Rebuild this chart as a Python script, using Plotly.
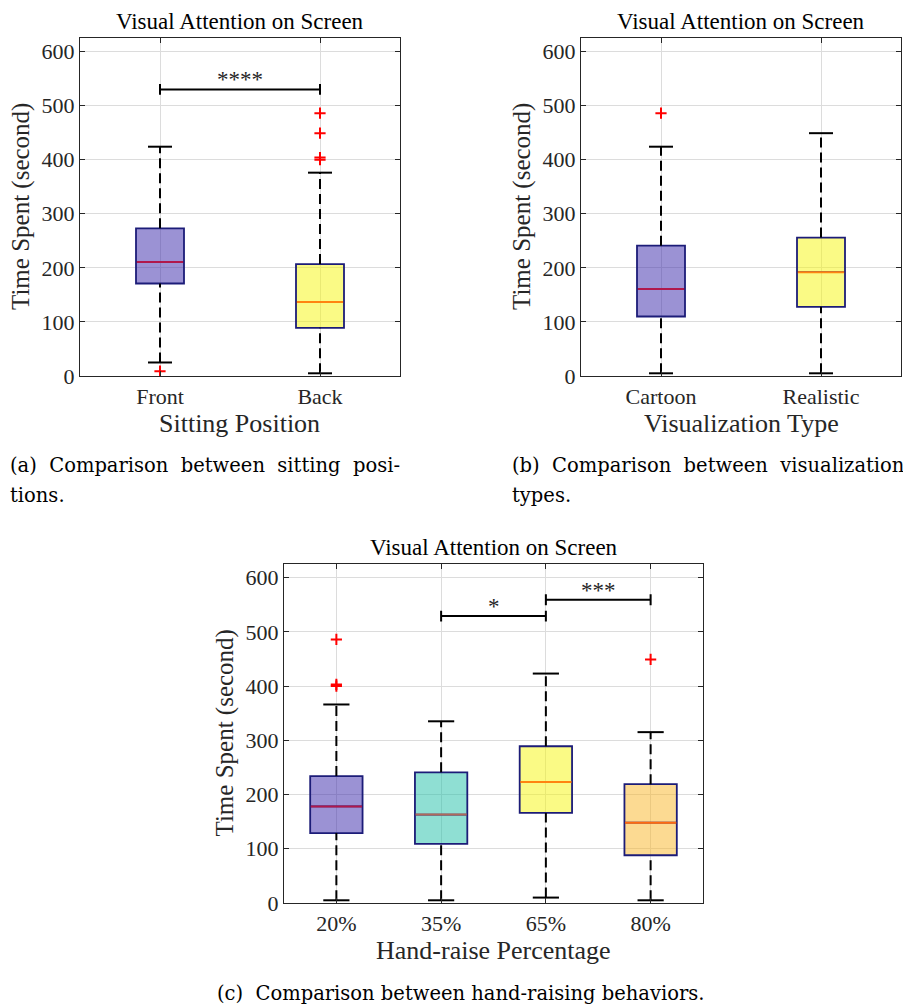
import plotly.graph_objects as go

# ---------------- data ----------------
pos_labels = ["Front", "Back"]
pos_q1 = [171, 89]
pos_med = [211, 137]
pos_q3 = [273, 207]
pos_lo = [25, 5]
pos_hi = [424, 376]
pos_out_cat = ["Front", "Back", "Back", "Back", "Back"]
pos_out_val = [9, 486, 449, 404, 400]

vis_labels = ["Cartoon", "Realistic"]
vis_q1 = [110, 128]
vis_med = [161, 192]
vis_q3 = [241, 256]
vis_lo = [5, 5]
vis_hi = [424, 449]
vis_out_cat = ["Cartoon"]
vis_out_val = [486]

hand_labels = ["20%", "35%", "65%", "80%"]
hand_q1 = [129, 109, 166, 88]
hand_med = [178, 163, 223, 148]
hand_q3 = [234, 241, 289, 219]
hand_lo = [5, 5, 10, 5]
hand_hi = [366, 335, 423, 315]
hand_out_cat = ["20%", "20%", "20%", "80%"]
hand_out_val = [486, 403, 400, 449]

pos_sig = [("Front", "Back", 530, "****")]
vis_sig = []
hand_sig = [("35%", "65%", 529, "*"), ("65%", "80%", 559, "***")]

# ---------------- styles ----------------
FILL_PURPLE = "rgba(55,37,169,0.5)"
FILL_YELLOW = "rgba(246,246,12,0.5)"
FILL_TEAL = "rgba(31,191,167,0.5)"
FILL_ORANGE = "rgba(249,181,37,0.5)"
MED_RED = "#b0184c"
MED_ORANGE = "#ff8410"
MED_BROWN = "#b06a5a"
MED_ORANGE2 = "#ff6a10"
BORDER = "#1c1c78"
SERIF = "Liberation Serif"
AX_COL = "#262626"

# page offset (body margin) and figure size
OFF = 8
W, H = 903, 1000


def gx(page_x):
    return (page_x - OFF) / W


def gy(page_y):
    return 1 - (page_y - OFF) / H


panels = [
    dict(labels=pos_labels, q1=pos_q1, med=pos_med, q3=pos_q3, lo=pos_lo, hi=pos_hi,
         oc=pos_out_cat, ov=pos_out_val, sig=pos_sig,
         fills=[FILL_PURPLE, FILL_YELLOW], meds=[MED_RED, MED_ORANGE],
         bw=0.3, cw=0.15, xpx=(80, 400), ypx=(38, 376), xtitle="Sitting Position",
         ytx=21, xty=424),
    dict(labels=vis_labels, q1=vis_q1, med=vis_med, q3=vis_q3, lo=vis_lo, hi=vis_hi,
         oc=vis_out_cat, ov=vis_out_val, sig=vis_sig,
         fills=[FILL_PURPLE, FILL_YELLOW], meds=[MED_RED, MED_ORANGE],
         bw=0.3, cw=0.15, xpx=(581, 901), ypx=(38, 376), xtitle="Visualization Type",
         ytx=522, xty=424),
    dict(labels=hand_labels, q1=hand_q1, med=hand_med, q3=hand_q3, lo=hand_lo, hi=hand_hi,
         oc=hand_out_cat, ov=hand_out_val, sig=hand_sig,
         fills=[FILL_PURPLE, FILL_TEAL, FILL_YELLOW, FILL_ORANGE],
         meds=[MED_RED, MED_BROWN, MED_ORANGE, MED_ORANGE2],
         bw=0.5, cw=0.25, xpx=(284, 703), ypx=(564, 903), xtitle="Hand-raise Percentage",
         ytx=224, xty=950),
]

fig = go.Figure()
annotations = []

for k, p in enumerate(panels):
    sfx = "" if k == 0 else str(k + 1)
    xa, ya = "x" + sfx, "y" + sfx
    n = len(p["labels"])
    idx = {lab: i + 1 for i, lab in enumerate(p["labels"])}
    for i in range(n):
        xc = i + 1
        # dashed whiskers
        for a, b in [(p["q3"][i], p["hi"][i]), (p["lo"][i], p["q1"][i])]:
            fig.add_trace(go.Scatter(x=[xc, xc], y=[a, b], mode="lines", xaxis=xa, yaxis=ya,
                                     line=dict(color="black", width=2, dash="10px,5px"),
                                     hoverinfo="skip", showlegend=False))
        # caps
        for v in [p["hi"][i], p["lo"][i]]:
            fig.add_trace(go.Scatter(x=[xc - p["cw"] / 2, xc + p["cw"] / 2], y=[v, v], mode="lines",
                                     xaxis=xa, yaxis=ya, line=dict(color="black", width=2),
                                     hoverinfo="skip", showlegend=False))
        # box
        fig.add_trace(go.Box(x=[xc], q1=[p["q1"][i]], median=[p["med"][i]], q3=[p["q3"][i]],
                             lowerfence=[p["q1"][i]], upperfence=[p["q3"][i]],
                             width=p["bw"], fillcolor=p["fills"][i],
                             line=dict(color=BORDER, width=1.8), boxpoints=False,
                             xaxis=xa, yaxis=ya, hoverinfo="skip", showlegend=False))
        # median
        fig.add_trace(go.Scatter(x=[xc - p["bw"] / 2 + 0.005, xc + p["bw"] / 2 - 0.005],
                                 y=[p["med"][i], p["med"][i]], mode="lines", xaxis=xa, yaxis=ya,
                                 line=dict(color=p["meds"][i], width=2),
                                 hoverinfo="skip", showlegend=False))
    # outliers
    if p["oc"]:
        fig.add_trace(go.Scatter(x=[idx[c] for c in p["oc"]], y=p["ov"], mode="markers",
                                 xaxis=xa, yaxis=ya,
                                 marker=dict(symbol="cross-thin", size=8, color="red",
                                             line=dict(color="red", width=2)),
                                 hoverinfo="skip", showlegend=False))
    # significance bars
    for (c1, c2, yv, txt) in p["sig"]:
        x1, x2 = idx[c1], idx[c2]
        fig.add_trace(go.Scatter(x=[x1, x1, x1, x2, x2, x2], y=[yv - 10, yv + 10, yv, yv, yv + 10, yv - 10],
                                 mode="lines", xaxis=xa, yaxis=ya,
                                 line=dict(color="black", width=2),
                                 hoverinfo="skip", showlegend=False))
        annotations.append(dict(x=(x1 + x2) / 2, y=yv - 9, xref=xa, yref=ya, text=txt,
                                showarrow=False, xanchor="center", yanchor="bottom",
                                font=dict(family=SERIF, size=23, color=AX_COL)))

    x0, x1p = p["xpx"]
    yt, yb = p["ypx"]
    axis_common = dict(showline=True, linecolor=AX_COL, linewidth=1.3, mirror="ticks",
                       ticks="inside", ticklen=5, tickcolor=AX_COL, showgrid=True,
                       gridcolor="#dcdcdc", gridwidth=1, zeroline=False, automargin=False,
                       tickfont=dict(family=SERIF, size=22, color=AX_COL))
    fig.update_layout(**{
        "xaxis" + sfx: dict(domain=[gx(x0), gx(x1p)], anchor=ya, range=[0.5, n + 0.5],
                            tickvals=list(range(1, n + 1)), ticktext=p["labels"],
                            **axis_common),
        "yaxis" + sfx: dict(domain=[gy(yb), gy(yt)], anchor=xa, range=[0, 625],
                            tickvals=[0, 100, 200, 300, 400, 500, 600],
                            **axis_common),
    })
    annotations.append(dict(x=gx((x0 + x1p) / 2), y=gy(p["xty"]), xref="paper", yref="paper",
                            text=p["xtitle"], showarrow=False, xanchor="center", yanchor="middle",
                            font=dict(family=SERIF, size=26, color=AX_COL)))
    annotations.append(dict(x=gx(p["ytx"]), y=gy((yt + yb) / 2), xref="paper", yref="paper",
                            text="Time Spent (second)", showarrow=False, textangle=-90,
                            xanchor="center", yanchor="middle",
                            font=dict(family=SERIF, size=25, color=AX_COL)))
    annotations.append(dict(x=gx((x0 + x1p) / 2), y=gy(yt - 30), xref="paper", yref="paper",
                            text="Visual Attention on Screen", showarrow=False,
                            xanchor="center", yanchor="top", borderpad=0,
                            font=dict(family=SERIF, size=23, color="black")))

CAP = dict(family="DejaVu Serif", size=19.5, color="black")
annotations += [
    dict(x=gx(8), y=gy(466), xref="paper", yref="paper", xanchor="left", yanchor="middle",
         text="(a)  Comparison  between  sitting  posi-", showarrow=False, font=CAP),
    dict(x=gx(8), y=gy(495), xref="paper", yref="paper", xanchor="left", yanchor="middle",
         text="tions.", showarrow=False, font=CAP),
    dict(x=gx(510), y=gy(466), xref="paper", yref="paper", xanchor="left", yanchor="middle",
         text="(b)  Comparison  between  visualization", showarrow=False, font=CAP),
    dict(x=gx(510), y=gy(495), xref="paper", yref="paper", xanchor="left", yanchor="middle",
         text="types.", showarrow=False, font=CAP),
    dict(x=gx(460), y=gy(993), xref="paper", yref="paper", xanchor="center", yanchor="middle",
         text="(c)  Comparison between hand-raising behaviors.", showarrow=False, font=CAP),
]

fig.update_layout(width=W, height=H, margin=dict(l=0, r=0, t=0, b=0),
                  paper_bgcolor="white", plot_bgcolor="white", boxmode="overlay",
                  showlegend=False, annotations=annotations)

fig.write_html("out.html")
